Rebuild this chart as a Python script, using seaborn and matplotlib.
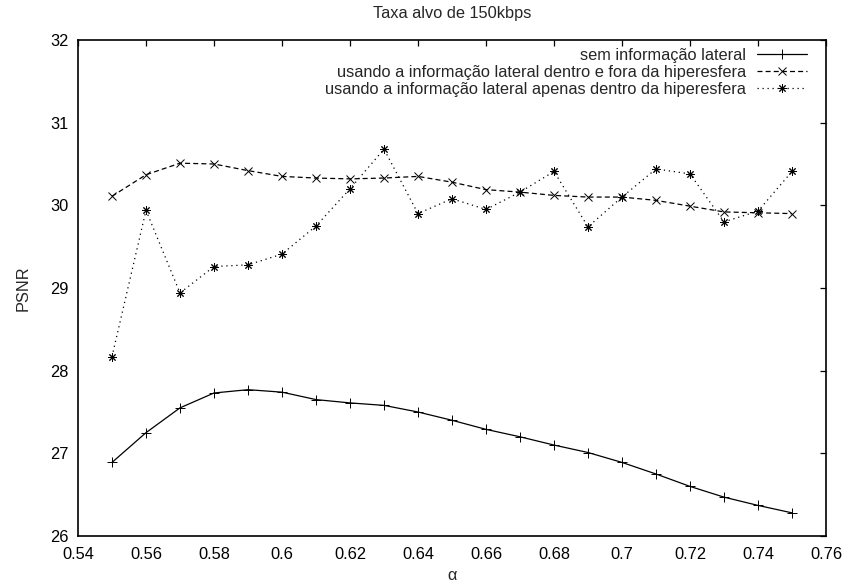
import matplotlib
matplotlib.use("Agg")
import matplotlib.pyplot as plt
import seaborn as sns
import pandas as pd

alpha = [0.55, 0.56, 0.57, 0.58, 0.59, 0.60, 0.61, 0.62, 0.63, 0.64, 0.65,
         0.66, 0.67, 0.68, 0.69, 0.70, 0.71, 0.72, 0.73, 0.74, 0.75]

sem_info = [26.89, 27.25, 27.55, 27.73, 27.77, 27.74, 27.65, 27.61, 27.58, 27.50, 27.40,
            27.29, 27.20, 27.10, 27.01, 26.89, 26.75, 26.60, 26.47, 26.37, 26.28]

dentro_fora = [30.11, 30.37, 30.51, 30.50, 30.42, 30.35, 30.33, 30.32, 30.33, 30.35, 30.28,
               30.19, 30.16, 30.12, 30.10, 30.10, 30.06, 29.99, 29.92, 29.91, 29.90]

apenas_dentro = [28.17, 29.94, 28.94, 29.26, 29.28, 29.41, 29.75, 30.20, 30.68, 29.90, 30.08,
                 29.95, 30.16, 30.41, 29.74, 30.10, 30.44, 30.38, 29.80, 29.93, 30.41]

labels = ["sem informação lateral",
          "usando a informação lateral dentro e fora da hiperesfera",
          "usando a informação lateral apenas dentro da hiperesfera"]

title = "Taxa alvo de 150kbps"
xlabel = "α"
ylabel = "PSNR"
xticks = [0.54, 0.56, 0.58, 0.60, 0.62, 0.64, 0.66, 0.68, 0.70, 0.72, 0.74, 0.76]
xticklabels = ["0.54", "0.56", "0.58", "0.6", "0.62", "0.64", "0.66", "0.68", "0.7", "0.72", "0.74", "0.76"]
yticks = [26, 27, 28, 29, 30, 31, 32]

sns.set_theme(style="white")
plt.rcParams['font.family'] = ['Liberation Sans', 'DejaVu Sans']
FS = 11.8
plt.rcParams['font.size'] = FS

fig = plt.figure(figsize=(8.46, 5.88), dpi=100)
ax = fig.add_axes([78 / 846, 1 - 536 / 588, (826 - 78) / 846, (536 - 40) / 588])

df1 = pd.DataFrame({"alpha": alpha, "psnr": sem_info})
df2 = pd.DataFrame({"alpha": alpha, "psnr": dentro_fora})
df3 = pd.DataFrame({"alpha": alpha, "psnr": apenas_dentro})

common = dict(ax=ax, color="black", lw=0.9, markeredgecolor="black",
              markerfacecolor="black", markeredgewidth=0.7)
sns.lineplot(data=df1, x="alpha", y="psnr", marker="+", markersize=6.5,
             label=labels[0], **common)
sns.lineplot(data=df2, x="alpha", y="psnr", marker="x", markersize=5.8,
             label=labels[1], linestyle=(0, (4, 2.5)), **common)
sns.lineplot(data=df3, x="alpha", y="psnr", marker=(8, 2, 0), markersize=6,
             label=labels[2], linestyle=(0, (1, 3)), **common)

ax.set_xlim(0.54, 0.76)
ax.set_ylim(26, 32)
ax.set_xticks(xticks)
ax.set_xticklabels(xticklabels)
ax.set_yticks(yticks)
ax.tick_params(direction="in", length=4.5, width=0.9, top=True, right=True,
               labeltop=False, labelright=False, labelsize=FS, colors="black")
ax.tick_params(axis="x", pad=8)
ax.tick_params(axis="y", pad=7)
for s in ax.spines.values():
    s.set_color("black")
    s.set_linewidth(1.2)

ax.set_title(title, fontsize=FS, pad=15.5)
ax.set_xlabel(xlabel, fontsize=FS, labelpad=4)
ax.set_ylabel(ylabel, fontsize=FS, labelpad=14)

leg = ax.legend(loc="upper right", frameon=False, markerfirst=False, fontsize=FS,
                handlelength=3.0, handletextpad=0.7, labelspacing=0.12,
                borderaxespad=0.1, bbox_to_anchor=(0.985, 1.0))
for t in leg.get_texts():
    t.set_ha("right")

fig.savefig("out.png", dpi=100)
